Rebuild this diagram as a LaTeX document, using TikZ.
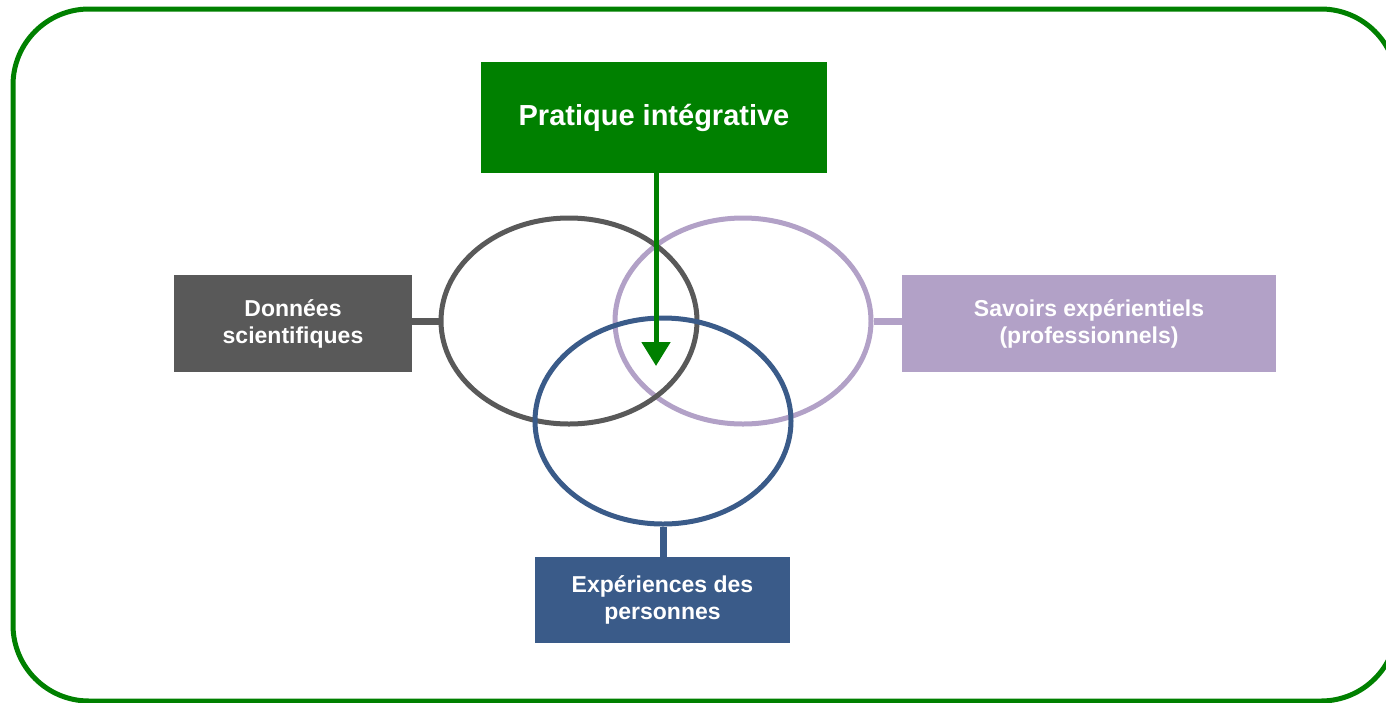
\documentclass[tikz,border=0pt]{standalone}
\usepackage{fontspec}
\setmainfont{Liberation Sans}
\usetikzlibrary{shapes.geometric,arrows.meta}
\definecolor{fgreen}{RGB}{0,128,0}
\definecolor{fgray}{RGB}{89,89,89}
\definecolor{fpurple}{RGB}{178,161,199}
\definecolor{fblue}{RGB}{58,91,137}
\tikzset{
  labelbox/.style={draw=none, inner sep=0pt, text=white, align=center,
    font=\fontsize{23}{27}\selectfont\bfseries},
  ring/.style={ellipse, draw, line width=5pt, minimum width=256pt, minimum height=206pt, inner sep=0pt},
  link/.style={line width=7pt},
}
\begin{document}
\begin{tikzpicture}[x=1pt,y=-1pt]
\useasboundingbox (0,0) rectangle (1386,702);
\clip (0,0) rectangle (1386,702);
% outer frame
\draw[fgreen, line width=5pt, rounded corners=76pt] (13,9) rectangle (1397,701);
% boxes
\node[labelbox, fill=fgreen, minimum width=346pt, minimum height=111pt,
  font=\fontsize{29}{34}\selectfont\bfseries] (prat) at (654,117.5) {Pratique intégrative};
\node[labelbox, fill=fgray, minimum width=238pt, minimum height=97pt] (donn) at (293,323.5) {Données\\scientifiques};
\node[labelbox, fill=fpurple, minimum width=374pt, minimum height=97pt] (sav) at (1089,323.5) {Savoirs expérientiels\\(professionnels)};
\node[labelbox, fill=fblue, minimum width=255pt, minimum height=86pt] (exp) at (662.5,600) {Expériences des\\personnes};
% ellipses
\node[ring, draw=fpurple] (epur) at (743,321) {};
\node[ring, draw=fgray] (egray) at (569,321) {};
\node[ring, draw=fblue] (eblue) at (663,421) {};
% connectors
\draw[link, fgray] (egray.west) -- (egray.west -| donn.east);
\draw[link, fpurple] (epur.east) -- (epur.east -| sav.west);
\draw[link, fblue] (eblue.south) -- (eblue.south |- exp.north);
% arrow
\coordinate (tip) at (656,366);
\draw[fgreen, line width=5pt, -{Triangle[width=28pt,length=24pt]}] (prat.south -| tip) -- (tip);
\end{tikzpicture}
\end{document}
